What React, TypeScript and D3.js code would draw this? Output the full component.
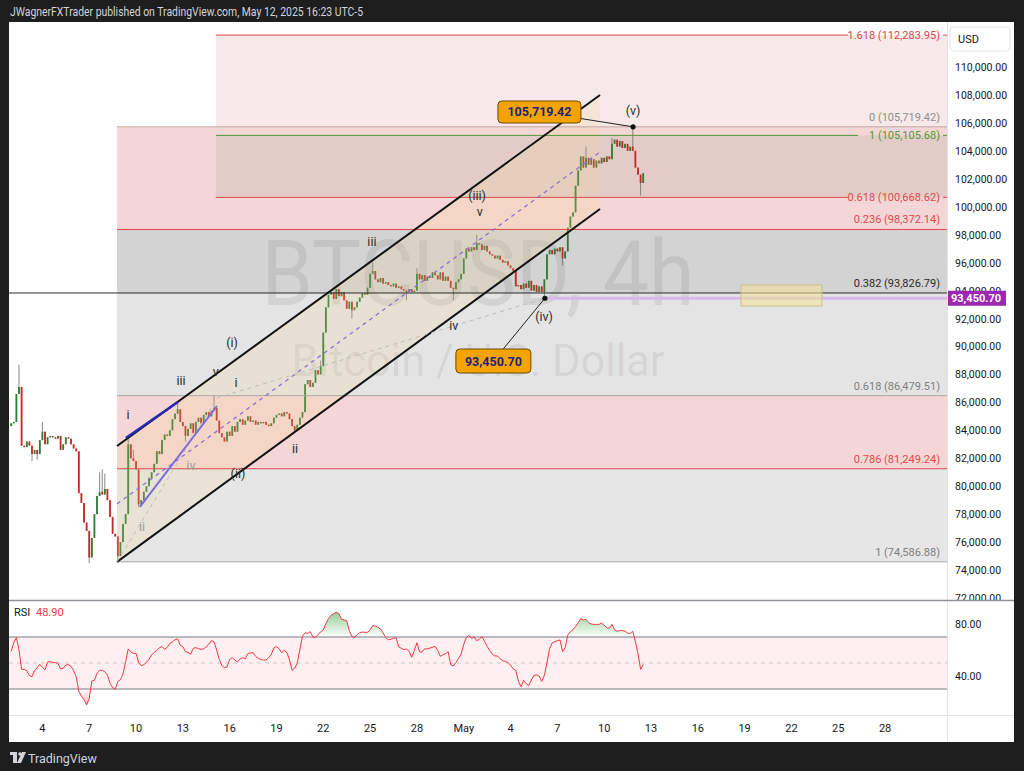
import * as d3 from 'd3'

const FONT = 'Roboto, "Liberation Sans", Arial, sans-serif'

// BTCUSD 4h candles, first bar 2 Apr 2025 00:00, closes in thousands of USD (open = previous close)
const firstOpen = 84.3
const closes = [
  84.5, 84.6, 86.6, 87.1, 82.9, 82.8, // Apr 2
  83.2, 82.9, 82.3, 82.6, 82.3, 83.3, // Apr 3
  83.9, 83.0, 83.5, 83.6, 83.5, 83.4, // Apr 4
  83.6, 82.6, 83.0, 83.5, 83.4, 83.0, // Apr 5
  82.7, 82.5, 79.5, 78.8, 77.4, 76.8, // Apr 6
  74.9, 76.3, 78.0, 79.3, 79.6, 79.4, // Apr 7
  79.8, 79.0, 77.8, 76.6, 76.4, 75.0, // Apr 8
  76.0, 77.3, 78.0, 83.0, 82.0, 81.8, // Apr 9
  81.2, 78.7, 79.0, 79.6, 80.0, 80.6, // Apr 10
  81.0, 81.6, 82.5, 82.3, 83.3, 83.7, // Apr 11
  83.6, 84.0, 84.8, 85.2, 85.5, 84.6, // Apr 12
  84.3, 83.6, 84.1, 84.5, 83.8, 84.6, // Apr 13
  84.9, 84.5, 85.1, 85.3, 85.0, 85.4, // Apr 14
  85.6, 84.7, 83.8, 83.5, 83.2, 83.9, // Apr 15
  83.6, 84.3, 83.9, 84.6, 84.8, 84.4, // Apr 16
  84.7, 85.0, 84.6, 84.7, 84.4, 84.6, // Apr 17
  84.5, 84.6, 84.4, 84.3, 84.5, 84.9, // Apr 18
  85.1, 85.2, 85.0, 85.3, 85.2, 84.8, // Apr 19
  84.3, 84.0, 84.4, 84.9, 85.3, 87.3, // Apr 20
  87.6, 87.1, 87.4, 88.3, 88.0, 88.6, // Apr 21
  91.0, 92.8, 93.7, 93.9, 93.4, 94.1, // Apr 22
  93.6, 93.9, 93.3, 92.7, 93.2, 92.6, // Apr 23
  92.8, 93.2, 93.5, 93.8, 93.7, 94.2, // Apr 24
  95.2, 95.4, 94.8, 94.6, 94.9, 94.5, // Apr 25
  94.6, 94.4, 94.3, 94.5, 94.2, 94.3, // Apr 26
  94.1, 94.0, 93.9, 94.1, 93.9, 94.0, // Apr 27
  95.2, 94.8, 95.1, 94.7, 95.0, 94.9, // Apr 28
  95.3, 95.1, 94.8, 95.3, 94.7, 95.0, // Apr 29
  94.7, 94.2, 94.1, 94.6, 94.8, 95.2, // Apr 30
  96.3, 97.0, 96.8, 97.1, 96.9, 97.4, // May 1
  97.3, 96.9, 97.2, 96.8, 96.6, 96.5, // May 2
  96.3, 96.5, 96.2, 96.0, 96.1, 95.8, // May 3
  95.6, 95.4, 94.3, 94.4, 94.1, 94.5, // May 4
  94.2, 94.7, 94.0, 94.4, 93.9, 94.3, // May 5
  93.9, 94.8, 96.6, 96.9, 96.6, 97.0, // May 6
  96.8, 97.1, 96.3, 96.8, 98.5, 99.3, // May 7
  99.6, 101.5, 102.6, 103.6, 102.8, 103.5, // May 8
  103.0, 103.4, 102.8, 103.3, 103.1, 103.5, // May 9
  103.2, 103.6, 103.4, 104.5, 104.8, 104.3, // May 10
  104.7, 104.2, 104.5, 104.0, 104.3, 104.0, // May 11
  102.8, 102.3, 101.7, 102.4, // May 12
]
// [bar, price] wick extremes that stick out of the bodies
const wickHighs = [
  [3, 88.7], [12, 84.6], [34, 81.0], [35, 81.2], [36, 80.9], [45, 83.6], [47, 82.6], [64, 86.0],
  [78, 86.5], [119, 89.0], [139, 96.0], [156, 95.6], [179, 98.0], [221, 104.3], [231, 104.9], [239, 105.72],
]
const wickLows = [
  [8, 81.8], [10, 81.9], [30, 74.5], [41, 74.59], [49, 78.5], [67, 83.2], [109, 83.9], [131, 92.0],
  [152, 93.3], [170, 93.3], [205, 93.45], [212, 95.8], [242, 100.8],
]

// RSI(14) per bar
const rsi = [
  59.0, 65.6, 69.5, 60.0, 45.1, 45.1, 44.1, 40.3, 39.5, 44.1, 46.4, 49.0,
  46.7, 44.6, 50.8, 51.0, 50.5, 50.3, 49.7, 45.4, 45.9, 48.5, 48.7, 47.4,
  44.1, 39.5, 28.2, 24.4, 21.8, 17.7, 22.6, 36.2, 36.7, 42.0, 44.4, 44.4,
  43.3, 40.8, 34.4, 31.0, 29.7, 35.6, 37.2, 41.5, 51.0, 60.8, 58.5, 57.4,
  57.4, 50.5, 48.0, 48.7, 50.5, 52.8, 56.2, 58.2, 59.7, 61.8, 62.6, 60.5,
  62.1, 65.1, 66.2, 67.9, 68.5, 63.6, 62.6, 58.7, 58.2, 56.7, 61.3, 61.8,
  61.0, 60.5, 60.8, 62.6, 64.4, 67.2, 66.2, 60.0, 52.8, 48.2, 46.2, 46.9,
  52.8, 54.1, 52.3, 50.8, 53.1, 54.1, 53.3, 57.2, 57.7, 57.9, 55.1, 53.6,
  52.6, 52.3, 52.3, 54.1, 56.7, 61.5, 62.6, 61.0, 57.9, 59.7, 58.2, 52.3,
  44.4, 45.9, 50.0, 60.5, 70.8, 73.3, 72.8, 74.1, 70.0, 69.7, 71.8, 74.0,
  75.4, 80.3, 84.1, 86.7, 88.0, 89.0, 88.0, 83.6, 83.1, 82.6, 74.9, 70.5,
  69.7, 71.8, 73.3, 73.8, 73.6, 73.6, 75.6, 78.7, 78.5, 77.4, 76.2, 73.1,
  69.5, 67.9, 68.2, 69.0, 69.5, 62.3, 61.3, 60.3, 60.8, 59.0, 54.4, 59.5,
  65.6, 58.5, 58.5, 61.0, 60.8, 61.5, 62.1, 62.8, 59.5, 55.1, 56.4, 57.2,
  58.7, 48.7, 47.7, 50.3, 53.6, 56.9, 64.4, 69.5, 71.3, 69.0, 70.0, 67.2,
  68.2, 70.3, 66.7, 62.8, 59.5, 56.7, 55.4, 55.4, 53.3, 51.8, 51.3, 50.3,
  48.2, 45.6, 44.4, 36.2, 31.8, 36.7, 34.1, 32.6, 36.9, 40.5, 40.8, 40.0,
  35.9, 40.5, 50.3, 61.0, 65.4, 66.4, 67.2, 67.7, 58.7, 61.8, 71.5, 74.1,
  75.6, 78.2, 81.0, 84.1, 83.1, 83.6, 81.0, 80.0, 79.7, 79.7, 79.7, 80.8,
  79.0, 77.2, 76.7, 79.7, 75.6, 74.4, 74.9, 74.9, 74.6, 72.8, 72.8, 74.4,
  66.4, 57.0, 45.1, 48.9,
]

const priceTicks = d3.range(72000, 110001, 2000)
const rsiTicks = [80, 40]

// Fib retracement 74,586.88 -> 105,719.42 and trend-based extension
const retraceLevels = [
  [0, 105719.42], [0.236, 98372.14], [0.382, 93826.79], [0.618, 86479.51], [0.786, 81249.24], [1, 74586.88],
]
const extLevels = [[1.618, 112283.95], [1, 105105.68], [0.618, 100668.62]]

// annotation anchors: [bar index, price]
const channelUpper = [[40.7, 82879], [226.4, 107996]]
const channelLower = [[40.7, 74587], [226.4, 99838]]
const blueWave = [[44.1, 83451], [64.1, 86027]]
const purpleWave = [[49.5, 78514], [79.1, 85741]]
const greyDashed = [[40.7, 74587], [79.1, 86314], [205.2, 93450.7]]
const zoneBox = [[280.6, 94400], [311.7, 92897]]
const waveLabels = [
  ['i', 44.9, 85030, 'dark'], ['iii', 65.3, 87460, 'dark'], ['v', 78.7, 88100, 'dark'],
  ['ii', 50.3, 77010, 'light'], ['iv', 69.1, 81380, 'light'],
  ['(i)', 84.9, 90180, 'dark'], ['(ii)', 87.2, 80800, 'dark'], ['i', 86.4, 87320, 'dark'],
  ['ii', 109.1, 82590, 'dark'], ['iii', 138.7, 97400, 'dark'], ['iv', 170.2, 91390, 'dark'],
  ['v', 180.2, 99550, 'dark'], ['(iii)', 179.1, 100700, 'dark'], ['(iv)', 204.9, 92040, 'dark'],
  ['(v)', 239.1, 106780, 'dark'],
]
// price callouts: point [bar, price], box centre [bar, price]
const callouts = [
  { value: 105719.42, point: [239.1, 105719.42], box: [203.1, 106780] },
  { value: 93450.7, point: [205.2, 93450.7], box: [185.4, 88960] },
]
const lastWave4 = 93450.7

const retraceStyle: Record<string, { line: string; text: string }> = {
  '0': { line: '#c3a6a6', text: '#8d8d8d' },
  '0.236': { line: '#e0484f', text: '#e0484f' },
  '0.382': { line: '#2a2a2a', text: '#2a2a2a' },
  '0.618': { line: '#a8a8a8', text: '#7f7f7f' },
  '0.786': { line: '#e0484f', text: '#e0484f' },
  '1': { line: '#a8a8a8', text: '#7f7f7f' },
}
const retraceFill = ['#f5d6d6', '#d3d3d3', '#e4e4e4', '#f5d6d6', '#e6e6e6']
const extStyle: Record<string, string> = { '1.618': '#d84848', '1': '#4f9a35', '0.618': '#e0484f' }

export default function App() {
  const W = 1024
  const H = 771
  const L = 9
  const R = 947
  const RA = 1014
  const TOP = 22
  const PB = 600
  const RT = 601
  const RB = 715
  const BOT = 742

  const t0 = Date.UTC(2025, 3, 2)
  const barTime = (i: number) => new Date(t0 + i * 4 * 3600 * 1000)
  const x = d3.scaleUtc()
    .domain([new Date(Date.UTC(2025, 3, 4)), new Date(Date.UTC(2025, 4, 13))])
    .range([42.4, 651])
  const xi = (i: number) => x(barTime(i))
  const y = d3.scaleLinear().domain([72000, 110000]).range([598, 67])
  const yr = d3.scaleLinear().domain([40, 80]).range([676, 624])

  const fmt = d3.format(',.2f')
  const hiMap = new Map(wickHighs.map(([i, p]) => [i, p]))
  const loMap = new Map(wickLows.map(([i, p]) => [i, p]))
  const bars = closes.map((c, i) => {
    const o = i === 0 ? firstOpen : closes[i - 1]
    const h = Math.max(o, c, hiMap.get(i) ?? 0)
    const l = Math.min(o, c, loMap.get(i) ?? 999)
    return { i, o: o * 1000, c: c * 1000, h: h * 1000, l: l * 1000 }
  })

  const retX0 = xi(40.7)
  const extX0 = xi(78.7)
  const pt = (a: number[]) => [xi(a[0]), y(a[1])] as [number, number]

  const chanPoly = [pt(channelUpper[0]), pt(channelUpper[1]), pt(channelLower[1]), pt(channelLower[0])]
  const midA = [(pt(channelUpper[0])[0]), (pt(channelUpper[0])[1] + pt(channelLower[0])[1]) / 2]
  const midB = [(pt(channelUpper[1])[0]), (pt(channelUpper[1])[1] + pt(channelLower[1])[1]) / 2]

  const rsiLine = d3.line<number>().x((_, i) => xi(i)).y((v) => yr(v))
  const obArea = d3.area<number>().x((_, i) => xi(i)).y0(yr(70)).y1((v) => yr(Math.max(v, 70)))
  const osArea = d3.area<number>().x((_, i) => xi(i)).y0(yr(30)).y1((v) => yr(Math.min(v, 30)))

  const dayTicks = d3.utcDay.every(3)!
    .range(new Date(Date.UTC(2025, 3, 2)), new Date(Date.UTC(2025, 4, 30)))
    .filter((d) => x(d) > 20 && x(d) < 920)
  const monthFmt = d3.utcFormat('%b')

  const extLabelW = 92

  return (
    <svg width={W} height={H} style={{ display: 'block', position: 'absolute', left: 0, top: 0 }} fontFamily={FONT}>
      <defs>
        <clipPath id="plot"><rect x={L} y={TOP} width={R - L} height={PB - TOP} /></clipPath>
        <clipPath id="rsiclip"><rect x={L} y={RT} width={R - L} height={RB - RT} /></clipPath>
        <clipPath id="axisclip"><rect x={R} y={TOP} width={RA - R} height={PB - TOP} /></clipPath>
        <linearGradient id="obGrad" gradientUnits="userSpaceOnUse" x1="0" x2="0" y1={yr(100)} y2={yr(70)}>
          <stop offset="0" stopColor="#4caf50" stopOpacity={0.95} />
          <stop offset="1" stopColor="#4caf50" stopOpacity={0} />
        </linearGradient>
        <linearGradient id="osGrad" gradientUnits="userSpaceOnUse" x1="0" x2="0" y1={yr(30)} y2={yr(0)}>
          <stop offset="0" stopColor="#f23645" stopOpacity={0} />
          <stop offset="1" stopColor="#f23645" stopOpacity={0.9} />
        </linearGradient>
      </defs>

      <rect x={0} y={0} width={W} height={H} fill="#1e1e1e" />
      <text x={10} y={16} fontSize={12} fill="#d1d4dc" textLength={353} lengthAdjust="spacingAndGlyphs">
        JWagnerFXTrader published on TradingView.com, May 12, 2025 16:23 UTC-5
      </text>
      <rect x={L} y={TOP} width={RA - L} height={BOT - TOP} fill="#ffffff" />

      {/* price pane */}
      <g clipPath="url(#plot)">
        {/* extension zones */}
        <rect x={extX0} y={y(extLevels[0][1])} width={R - extX0} height={y(extLevels[1][1]) - y(extLevels[0][1])} fill="rgba(188,72,72,0.12)" />
        {/* retracement zones */}
        {retraceLevels.slice(0, -1).map((lv, k) => (
          <rect key={k} x={retX0} y={y(lv[1])} width={R - retX0} height={y(retraceLevels[k + 1][1]) - y(lv[1])} fill={retraceFill[k]} />
        ))}
        <rect x={extX0} y={y(extLevels[1][1])} width={R - extX0} height={y(extLevels[2][1]) - y(extLevels[1][1])} fill="rgba(112,140,105,0.13)" />

        {/* watermark */}
        <text x={478} y={305} fontSize={90} textAnchor="middle" fill="rgba(0,0,0,0.075)" textLength={433} lengthAdjust="spacingAndGlyphs">BTCUSD, 4h</text>
        <text x={478} y={376} fontSize={44} textAnchor="middle" fill="rgba(0,0,0,0.075)" textLength={373} lengthAdjust="spacingAndGlyphs">Bitcoin / U.S. Dollar</text>

        {/* candles */}
        {bars.map((b) => {
          const cx = xi(b.i)
          const up = b.c >= b.o
          const top = y(Math.max(b.o, b.c))
          const hgt = Math.max(1, y(Math.min(b.o, b.c)) - top)
          return (
            <g key={b.i}>
              <line x1={cx} x2={cx} y1={y(b.h)} y2={y(b.l)} stroke="#6b6b6b" strokeWidth={0.8} />
              <rect x={cx - 0.9} y={top} width={1.8} height={hgt} fill={up ? '#2e7d32' : '#c62828'} />
            </g>
          )
        })}

        {/* parallel channel fill */}
        <polygon points={chanPoly.map((p) => p.join(',')).join(' ')} fill="rgba(240,215,140,0.2)" />

        {/* retracement lines */}
        {retraceLevels.map(([r, p]) => {
          const st = retraceStyle[String(r)]
          const x0 = r === 0.382 ? L : retX0
          return (
            <g key={r}>
              <line x1={x0} x2={R} y1={y(p)} y2={y(p)} stroke={st.line} strokeWidth={1} />
              <text x={940} y={y(p) - 6} fontSize={11} textAnchor="end" fill={st.text}>{`${r} (${fmt(p)})`}</text>
            </g>
          )
        })}
        {/* extension lines with inline labels */}
        {extLevels.map(([r, p]) => {
          const c = extStyle[String(r)]
          const txt = `${r} (${fmt(p)})`
          const w = r === 1 ? 82 : extLabelW
          return (
            <g key={'e' + r}>
              <line x1={extX0} x2={940 - w} y1={y(p)} y2={y(p)} stroke={c} strokeWidth={1} />
              <line x1={943} x2={R} y1={y(p)} y2={y(p)} stroke={c} strokeWidth={1} />
              <text x={940} y={y(p) + 4} fontSize={11} textAnchor="end" fill={c}>{txt}</text>
            </g>
          )
        })}

        {/* wave (iv) level */}
        <line x1={xi(205.2)} x2={R} y1={y(lastWave4)} y2={y(lastWave4)} stroke="#d8b8e6" strokeWidth={3} />

        {/* target zone */}
        <rect x={xi(zoneBox[0][0])} y={y(zoneBox[0][1])} width={xi(zoneBox[1][0]) - xi(zoneBox[0][0])}
          height={y(zoneBox[1][1]) - y(zoneBox[0][1])} fill="rgba(245,226,150,0.55)" stroke="#cfc08a" strokeWidth={1} />

        {/* channel lines */}
        <line x1={pt(channelUpper[0])[0]} y1={pt(channelUpper[0])[1]} x2={pt(channelUpper[1])[0]} y2={pt(channelUpper[1])[1]} stroke="#111" strokeWidth={2} />
        <line x1={pt(channelLower[0])[0]} y1={pt(channelLower[0])[1]} x2={pt(channelLower[1])[0]} y2={pt(channelLower[1])[1]} stroke="#111" strokeWidth={2} />
        <line x1={midA[0]} y1={midA[1]} x2={midB[0]} y2={midB[1]} stroke="#8f6fd6" strokeWidth={1.3} strokeDasharray="4 4" />

        {/* wave guide lines */}
        <polyline points={greyDashed.map((a) => pt(a).join(',')).join(' ')} fill="none" stroke="#bdbdbd" strokeWidth={1} strokeDasharray="4 4" />
        <line x1={pt(blueWave[0])[0]} y1={pt(blueWave[0])[1]} x2={pt(blueWave[1])[0]} y2={pt(blueWave[1])[1]} stroke="#2929b8" strokeWidth={2.6} />
        <line x1={pt(purpleWave[0])[0]} y1={pt(purpleWave[0])[1]} x2={pt(purpleWave[1])[0]} y2={pt(purpleWave[1])[1]} stroke="#7b6be0" strokeWidth={2} />

        {/* wave labels */}
        {waveLabels.map(([t, b, p, tone], k) => (
          <text key={k} x={xi(b as number)} y={y(p as number)} fontSize={12.5} textAnchor="middle" dominantBaseline="middle"
            fill={tone === 'dark' ? '#2b2b2b' : '#9a9a9a'}>{t}</text>
        ))}

        {/* callouts */}
        {callouts.map((c, k) => {
          const [px, py] = pt(c.point)
          const [bx, by] = pt(c.box)
          const bw = k === 0 ? 83 : 75
          const bh = k === 0 ? 22 : 24
          return (
            <g key={k}>
              <line x1={bx} y1={by} x2={px} y2={py} stroke="#222" strokeWidth={1} />
              <circle cx={px} cy={py} r={2.6} fill="#111" />
              <rect x={bx - bw / 2} y={by - bh / 2} width={bw} height={bh} rx={4} fill="#f5a300" stroke="#6b4a00" strokeWidth={1} />
              <text x={bx} y={by + 4.5} fontSize={12.5} fontWeight={700} textAnchor="middle" fill="#1a237e">{fmt(c.value)}</text>
            </g>
          )
        })}
      </g>

      {/* price axis */}
      <g clipPath="url(#axisclip)">
        {priceTicks.map((p) => (
          <text key={p} x={955} y={y(p) + 4} fontSize={10.5} fill="#131722">{fmt(p)}</text>
        ))}
      </g>
      <rect x={950} y={27} width={60} height={24} rx={4} fill="#fff" stroke="#e0e3eb" />
      <text x={958} y={43} fontSize={11} fill="#131722">USD</text>
      <rect x={R} y={y(lastWave4) - 7.5} width={59} height={15} fill="#9c27b0" />
      <text x={R + 4} y={y(lastWave4) + 4} fontSize={11} fontWeight={700} fill="#fff">{fmt(lastWave4)}</text>

      {/* pane borders */}
      <line x1={R + 0.5} x2={R + 0.5} y1={TOP} y2={BOT} stroke="#e0e3eb" />
      <line x1={L} x2={RA} y1={PB + 0.5} y2={PB + 0.5} stroke="#8d9099" strokeWidth={1.6} />
      <line x1={L} x2={RA} y1={RB + 0.5} y2={RB + 0.5} stroke="#e0e3eb" />

      {/* RSI pane */}
      <g clipPath="url(#rsiclip)">
        <rect x={L} y={yr(70)} width={R - L} height={yr(30) - yr(70)} fill="rgba(242,54,69,0.08)" />
        <line x1={L} x2={R} y1={yr(70)} y2={yr(70)} stroke="#787b86" strokeWidth={1.2} />
        <line x1={L} x2={R} y1={yr(30)} y2={yr(30)} stroke="#787b86" strokeWidth={1.2} />
        <line x1={L} x2={R} y1={yr(50)} y2={yr(50)} stroke="#c9c9c9" strokeWidth={1.2} strokeDasharray="4 4" />
        <path d={obArea(rsi) ?? ''} fill="url(#obGrad)" />
        <path d={osArea(rsi) ?? ''} fill="url(#osGrad)" />
        <path d={rsiLine(rsi) ?? ''} fill="none" stroke="#f23645" strokeWidth={1} />
      </g>
      <text x={14} y={616} fontSize={11} fill="#131722">RSI</text>
      <text x={36} y={616} fontSize={11} fill="#f23645">{rsi[rsi.length - 1].toFixed(2)}</text>
      {rsiTicks.map((v) => (
        <text key={v} x={955} y={yr(v) + 4} fontSize={10.5} fill="#131722">{v.toFixed(2)}</text>
      ))}

      {/* time axis */}
      {dayTicks.map((d) => (
        <text key={+d} x={x(d)} y={732} fontSize={11} textAnchor="middle" fill="#131722">
          {d.getUTCDate() === 1 ? monthFmt(d) : d.getUTCDate()}
        </text>
      ))}

      {/* footer logo */}
      <g fill="#d1d4dc">
        <rect x={10} y={752} width={7} height={3} />
        <rect x={13} y={752} width={4} height={11} />
        <circle cx={20} cy={754} r={1.8} />
        <path d="M22 752 L26 752 L21 763 L17 763 Z" />
      </g>
      <text x={28} y={763} fontSize={12.5} fill="#d1d4dc">TradingView</text>
    </svg>
  )
}
